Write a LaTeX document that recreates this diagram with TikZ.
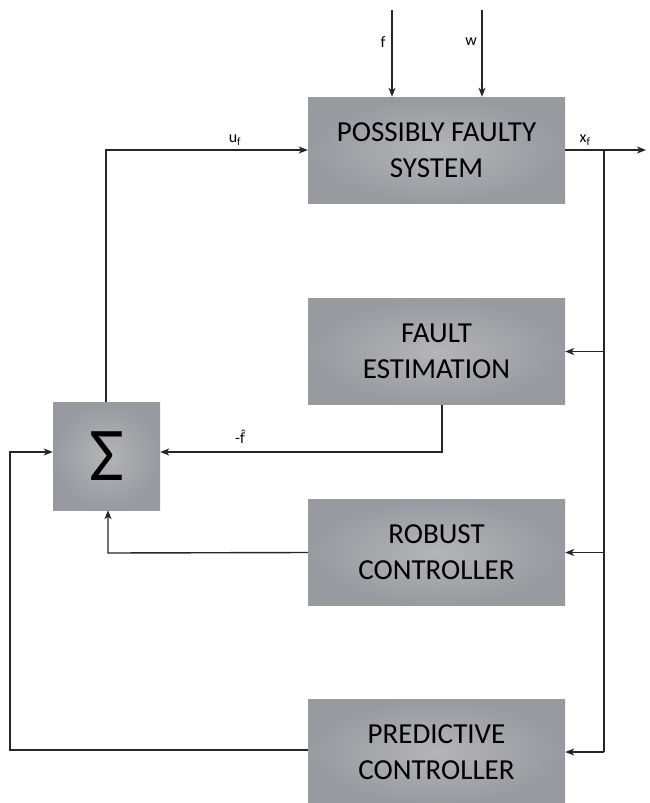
\documentclass[tikz,border=0pt]{standalone}
\usepackage{fontspec}
\setmainfont{Carlito}
\newfontfamily\accfont{DejaVu Sans}
\usetikzlibrary{arrows.meta}
\definecolor{blkin}{HTML}{B3B5B8}
\definecolor{blkout}{HTML}{979A9E}
\begin{document}
\begin{tikzpicture}[x=1pt,y=-1pt,
  blk/.style={draw=none,inner color=blkin,outer color=blkout,
    minimum width=257pt,minimum height=106pt,align=center,font=\fontsize{29}{36}\selectfont,inner sep=0pt},
  sig/.style={draw=none,inner color=blkin,outer color=blkout,
    minimum width=107pt,minimum height=108pt,inner sep=0pt},
  wire/.style={line width=1.4pt,draw=black!85},
  arr/.style={wire,-{Stealth[length=9pt,width=7pt,inset=2.5pt]}},
  lbl/.style={font=\fontsize{16}{18}\selectfont,inner sep=1pt}]
\useasboundingbox (0,0) rectangle (650,803);
\clip (0,0) rectangle (650,803);

% blocks
\node[blk] (sys) at (436.5,150) {POSSIBLY FAULTY\\SYSTEM};
\node[blk] (fe) at (436.5,351.5) {FAULT\\ESTIMATION};
\node[blk] (rc) at (436.5,552.5) {ROBUST\\CONTROLLER};
\node[blk] (pc) at (436.5,752) {PREDICTIVE\\CONTROLLER};
\node[sig] (sum) at (106.5,456) {\fontsize{76}{76}\selectfont Σ};

% external inputs
\coordinate (fin) at (392,10);
\coordinate (win) at (482,10);
\draw[arr] (fin) -- (fin |- sys.north);
\draw[arr] (win) -- (win |- sys.north);
\node[lbl] at (383,42) {f};
\node[lbl] at (471,42) {w};

% output and measurement bus
\coordinate (out) at (646,150);
\coordinate (tap) at (604,150);
\coordinate (bend) at (604,752);
\draw[arr] (sys.east) -- (out);
\node[lbl] at (585,140) {x\textsubscript{f}};
\draw[wire] (tap) -- (bend);
\draw[arr] (tap |- fe.east) -- (fe.east);
\draw[arr] (tap |- rc.east) -- (rc.east);
\draw[arr] (bend) -- (pc.east);

% feedback paths into the summation
\coordinate (fedown) at (442,452);
\draw[arr] (fedown |- fe.south) -- (fedown) -- (sum.east |- fedown);
\node[lbl] at (240,437) {-{\accfont\fontsize{14}{16}\selectfont f̂}};

\coordinate (rcl) at (108,553);
\draw[arr] (rc.west) -- (rcl) -- (rcl |- sum.south);

\coordinate (pcl) at (10,750);
\coordinate (pcu) at (10,452);
\draw[arr] (pc.west |- pcl) -- (pcl) -- (pcu) -- (sum.west |- pcu);

% control signal
\coordinate (uup) at (106,150);
\draw[arr] (uup |- sum.north) -- (uup) -- (sys.west);
\node[lbl] at (235,140) {u\textsubscript{f}};
\end{tikzpicture}
\end{document}
